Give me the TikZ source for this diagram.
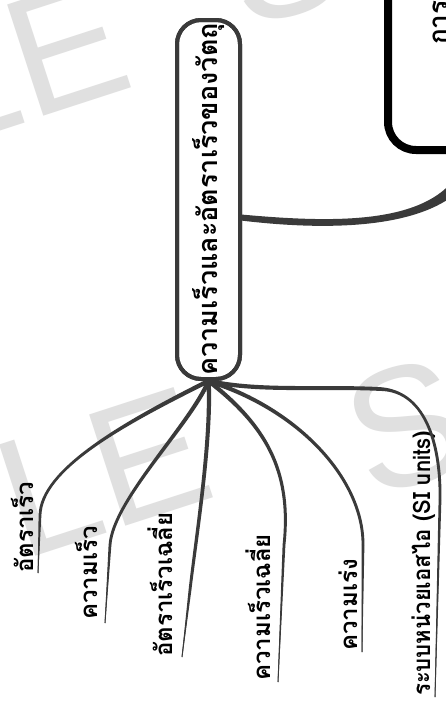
\documentclass[tikz,border=0pt]{standalone}
\usepackage{graphicx}
\usepackage{fontspec}
\newfontfamily\thaifont[Script=Thai]{Loma}
\newfontfamily\markfont{Liberation Sans}
\usetikzlibrary{calc}

\definecolor{ink}{RGB}{58,58,58}
\definecolor{markgray}{RGB}{224,224,224}

% Filled Bezier band whose half width runs #5 -> #8 along (#1) .. (#2) and (#3) .. (#4)
\newcommand\tapercurve[8]{%
  \fill[ink] ($(#1)!#5!90:(#2)$)
    .. controls ($(#2)!#6!90:(#3)$) and ($(#3)!#7!90:(#4)$) .. ($(#4)!#8!-90:(#3)$)
    -- ($(#4)!#8!90:(#3)$)
    .. controls ($(#3)!#7!-90:(#4)$) and ($(#2)!#6!-90:(#3)$) .. ($(#1)!#5!-90:(#2)$)
    -- cycle;}
% Straight band whose half width runs #3 -> #4 from (#1) to (#2)
\newcommand\taperstraight[4]{%
  \fill[ink] ($(#1)!#3!90:(#2)$) -- ($(#2)!#4!-90:(#1)$)
    -- ($(#2)!#4!90:(#1)$) -- ($(#1)!#3!-90:(#2)$) -- cycle;}

\begin{document}
\begin{tikzpicture}[x=1pt,y=-1pt,
  topic/.style={draw=ink, line width=4pt, rounded corners=24pt, fill=white, rotate=90,
    minimum width=359pt, minimum height=63pt, inner sep=0pt,
    font=\thaifont\bfseries\fontsize{27}{30}\selectfont},
  rootbox/.style={draw=black, line width=8pt, rounded corners=28pt, fill=white, rotate=90,
    minimum width=260pt, minimum height=172pt, inner sep=0pt},
  roottext/.style={rotate=90, anchor=base west, inner sep=0pt,
    font=\thaifont\bfseries\fontsize{26}{30}\selectfont},
  leaf/.style={rotate=90, anchor=base west, inner sep=0pt,
    font=\thaifont\bfseries\fontsize{24}{28}\selectfont},
  spine/.style={draw=ink, line width=1pt},
  watermark/.style={rotate=18, anchor=base west, inner sep=0pt, text=markgray,
    font=\markfont\fontsize{170}{170}\selectfont},
]
\useasboundingbox (0,0) rectangle (446,702);
\fill[white] (0,0) rectangle (446,702);
\clip (0,0) rectangle (446,702);

% watermark lettering
\node[watermark] (wm1) at (-518,299) {SAMPLE};
\node[watermark] (wm2) at (245,31) {SAMPLE};
\node[watermark] (wm3) at (-436,709) {SAMPLE};
\node[watermark] (wm4) at (370,500) {SAMPLE};

% boxes
\node[rootbox] (root) at (474,20) {};
\node[roottext] (roottitle) at (447,45) {การเคลื่อนที่แนวตรง};
\node[topic] (central) at (208.5,199.5) {ความเร็วและอัตราเร็วของวัตถุ\hspace{24pt}};

% leaf labels
\node[leaf] (l1) at (34,573) {อัตราเร็ว};
\node[leaf] (l2) at (97,620) {ความเร็ว};
\node[leaf] (l3) at (172,657) {อัตราเร็วเฉลี่ย};
\node[leaf] (l4) at (270,681) {ความเร็วเฉลี่ย};
\node[leaf] (l5) at (357,651) {ความเร่ง};
\node[leaf] (l6) at (430,696) {\scalebox{0.92}[1]{ระบบหน่วยเอสไอ (SI units)}};

% link to the parent topic
\coordinate (hub) at ($(central.south)+(-1,18)$);
\coordinate (h1) at (340,228);
\coordinate (h2) at (455,228);
\draw[spine] (hub) .. controls (h1) and (h2) .. (root.west);
\tapercurve{hub}{h1}{h2}{root.west}{3pt}{4.5pt}{6.5pt}{7pt}

% branches: curve to the label, then a rule under it
\coordinate (o) at (central.west);
\foreach \n/\ca/\cb/\m/\e in {
  1/{120,425}/{41.5,470}/{40,515}/{38,573},
  2/{190,425}/{113,500}/{110,545}/{105,623},
  3/{212,440}/{195,545}/{190,590}/{182,657},
  4/{265,425}/{292,470}/{284,545}/{278,682},
  5/{300,410}/{363.5,480}/{363,545}/{362,652}}{
  \coordinate (c\n a) at (\ca);
  \coordinate (c\n b) at (\cb);
  \coordinate (m\n) at (\m);
  \coordinate (e\n) at (\e);
  \draw[spine] (o) .. controls (c\n a) and (c\n b) .. (m\n) -- (e\n);
  \tapercurve{o}{c\n a}{c\n b}{m\n}{2.2pt}{2pt}{1.7pt}{1.4pt}
  \taperstraight{m\n}{e\n}{1.4pt}{0.3pt}
}
\coordinate (c6a) at (260,392);
\coordinate (c6b) at (320,386);
\coordinate (k6) at (380,389);
\coordinate (c6c) at (428,391);
\coordinate (c6d) at (441,450);
\coordinate (m6) at (440,500);
\coordinate (e6) at (435,697);
\draw[spine] (o) .. controls (c6a) and (c6b) .. (k6)
  .. controls (c6c) and (c6d) .. (m6) -- (e6);
\tapercurve{o}{c6a}{c6b}{k6}{2.2pt}{2.1pt}{2pt}{1.9pt}
\tapercurve{k6}{c6c}{c6d}{m6}{1.9pt}{1.7pt}{1.5pt}{1.4pt}
\taperstraight{m6}{e6}{1.4pt}{0.3pt}

% redraw the topic outline over the branch roots
\node[topic, fill=none] at (central) {};
\end{tikzpicture}
\end{document}
